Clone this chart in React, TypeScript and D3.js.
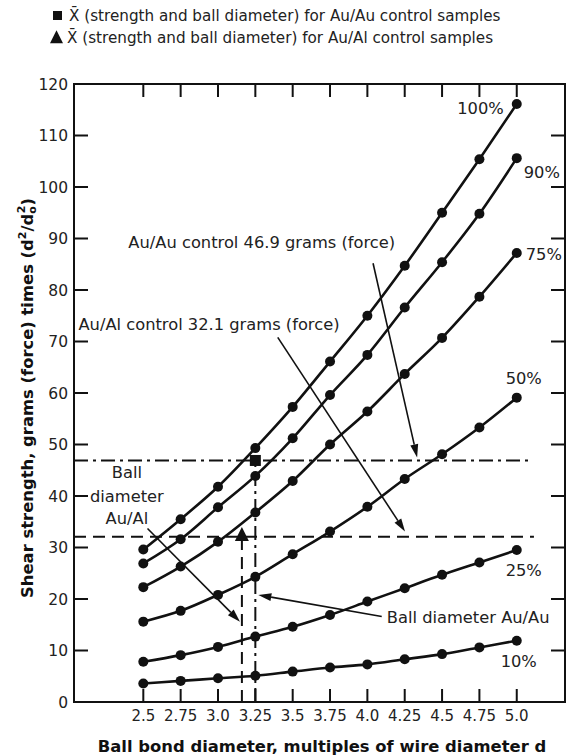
import React from "react";
import * as d3 from "d3";

const xValues = [2.5, 2.75, 3.0, 3.25, 3.5, 3.75, 4.0, 4.25, 4.5, 4.75, 5.0];
const xTickLabels = ["2.5", "2.75", "3.0", "3.25", "3.5", "3.75", "4.0", "4.25", "4.5", "4.75", "5.0"];
const yTicks = [0, 10, 20, 30, 40, 50, 60, 70, 80, 90, 100, 110, 120];

const s100 = [29.6, 35.5, 41.8, 49.3, 57.3, 66.1, 75.0, 84.7, 95.0, 105.4, 116.1];
const s90 = [26.9, 31.6, 37.8, 43.9, 51.2, 59.6, 67.4, 76.6, 85.4, 94.8, 105.6];
const s75 = [22.3, 26.3, 31.1, 36.8, 42.9, 50.0, 56.4, 63.7, 70.7, 78.7, 87.2];
const s50 = [15.6, 17.7, 20.8, 24.3, 28.7, 33.1, 37.9, 43.3, 48.1, 53.3, 59.1];
const s25 = [7.8, 9.1, 10.7, 12.7, 14.6, 16.9, 19.5, 22.1, 24.7, 27.1, 29.5];
const s10 = [3.6, 4.1, 4.6, 5.1, 5.9, 6.7, 7.3, 8.3, 9.3, 10.6, 11.9];
const seriesNames = ["100%", "90%", "75%", "50%", "25%", "10%"];

const auAuStrength = 46.9;
const auAuDiameter = 3.25;
const auAlStrength = 32.1;
const auAlDiameter = 3.16;

const FONT = "DejaVu Sans, Verdana, sans-serif";

export default function App() {
  const W = 573, H = 756;
  const left = 74, right = 565, top = 84, bottom = 702;
  const x = d3.scaleLinear().domain([2.036, 5.323]).range([left, right]);
  const y = d3.scaleLinear().domain([0, 120]).range([bottom, top]);
  const series = [s100, s90, s75, s50, s25, s10];
  const line = d3
    .line<number>()
    .x((_, i) => x(xValues[i]))
    .y((d) => y(d))
    .curve(d3.curveMonotoneX);

  const AF = 16.3;

  // label offsets relative to last point
  const labelPos = [
    { dx: -13, dy: 10, anchor: "end" },
    { dx: 7, dy: 20, anchor: "start" },
    { dx: 9, dy: 7, anchor: "start" },
    { dx: 7, dy: -14, anchor: "middle" },
    { dx: 7, dy: 26, anchor: "middle" },
    { dx: 2, dy: 26, anchor: "middle" },
  ];

  const arrows = [
    { x1: 4.038, y1: 85.2, x2: 4.333, y2: 47.5 },
    { x1: 3.40, y1: 70.8, x2: 4.252, y2: 33.1 },
    { x1: 2.528, y1: 33.7, x2: 3.147, y2: 15.6 },
    { x1: 4.096, y1: 16.6, x2: 3.27, y2: 20.8 },
  ];

  const arrowHead = (a: any) => {
    const X1 = x(a.x1), Y1 = y(a.y1), X2 = x(a.x2), Y2 = y(a.y2);
    const ang = Math.atan2(Y2 - Y1, X2 - X1);
    const L = 13, w = 4;
    const bx = X2 - L * Math.cos(ang), by = Y2 - L * Math.sin(ang);
    const px = -Math.sin(ang) * w, py = Math.cos(ang) * w;
    return {
      line: [X1, Y1, bx, by],
      head: `M${X2},${Y2}L${bx + px},${by + py}L${bx - px},${by - py}Z`,
    };
  };

  const tri = (cx: number, cy: number, s: number) =>
    `M${cx},${cy - s * 0.55}L${cx + s / 2},${cy + s * 0.45}L${cx - s / 2},${cy + s * 0.45}Z`;

  return (
    <svg width={W} height={H} style={{ position: "absolute", left: 0, top: 0, background: "#fff" }} fontFamily={FONT}>
      <rect x={0} y={0} width={W} height={H} fill="#fff" />
      {/* legend */}
      <rect x={53} y={11} width={9} height={9} fill="#111" />
      <text x={69} y={21} fontSize={15.2} fill="#222">X&#772; (strength and ball diameter) for Au/Au control samples</text>
      <path d={tri(56.5, 37.5, 13)} fill="#111" />
      <text x={67} y={43} fontSize={15.2} fill="#222">X&#772; (strength and ball diameter) for Au/Al control samples</text>

      {/* frame */}
      <rect x={left} y={top} width={right - left} height={bottom - top} fill="none" stroke="#111" strokeWidth={2} />
      {yTicks.map((t) => (
        <g key={"yt" + t}>
          {t > 0 && t < 120 && <line x1={left} x2={left + 14} y1={y(t)} y2={y(t)} stroke="#111" strokeWidth={2} />}
          {t > 0 && t < 120 && <line x1={right} x2={right - 14} y1={y(t)} y2={y(t)} stroke="#111" strokeWidth={2} />}
          <text x={68} y={y(t) + 5.5} textAnchor="end" fontSize={15.5} fill="#222">{t}</text>
        </g>
      ))}
      {xValues.map((v, i) => (
        <g key={"xt" + v}>
          <line x1={x(v)} x2={x(v)} y1={bottom} y2={bottom - 13} stroke="#111" strokeWidth={2} />
          <line x1={x(v)} x2={x(v)} y1={top} y2={top + 13} stroke="#111" strokeWidth={2} />
          <text x={x(v)} y={721} textAnchor="middle" fontSize={15} fill="#222">{xTickLabels[i]}</text>
        </g>
      ))}

      {/* axis titles */}
      <text x={322} y={752} textAnchor="middle" fontSize={16.4} fontWeight="bold" fill="#111">
        Ball bond diameter, multiples of wire diameter d
      </text>
      <text transform={`translate(33,${398}) rotate(-90)`} textAnchor="middle" fontSize={16.4} fontWeight="bold" fill="#111">
        Shear strength, grams (force) times (d
        <tspan fontSize={11} dy={-7}>2</tspan>
        <tspan fontSize={16.4} dy={7}>/d</tspan>
        <tspan fontSize={11} dy={3}>o</tspan>
        <tspan fontSize={11} dx={-7} dy={-11}>2</tspan>
        <tspan fontSize={16.4} dy={8}>)</tspan>
      </text>

      {/* reference lines */}
      <line x1={left} x2={x(5.089)} y1={y(auAuStrength)} y2={y(auAuStrength)} stroke="#111" strokeWidth={2} strokeDasharray="14,5,3,5" />
      <line x1={left} x2={x(5.115)} y1={y(auAlStrength)} y2={y(auAlStrength)} stroke="#111" strokeWidth={2} strokeDasharray="12,7" />
      <line x1={x(auAuDiameter)} x2={x(auAuDiameter)} y1={bottom} y2={y(auAuStrength)} stroke="#111" strokeWidth={2} strokeDasharray="14,5,3,5" />
      <line x1={x(auAlDiameter)} x2={x(auAlDiameter)} y1={bottom} y2={y(auAlStrength)} stroke="#111" strokeWidth={2} strokeDasharray="12,7" />

      {/* curves */}
      {series.map((s, k) => (
        <g key={"s" + k}>
          <path d={line(s) || ""} fill="none" stroke="#111" strokeWidth={2.6} />
          {s.map((v, i) => (
            <circle key={i} cx={x(xValues[i])} cy={y(v)} r={5} fill="#111" />
          ))}
          <text
            x={x(xValues[10]) + labelPos[k].dx}
            y={y(s[10]) + labelPos[k].dy}
            textAnchor={labelPos[k].anchor as any}
            fontSize={AF}
            fill="#222"
          >
            {seriesNames[k]}
          </text>
        </g>
      ))}

      {/* markers */}
      <rect x={x(auAuDiameter) - 5.5} y={y(auAuStrength) - 5.5} width={11} height={11} fill="#111" />
      <path d={tri(x(auAlDiameter), y(auAlStrength) - 2, 14)} fill="#111" />

      {/* annotations */}
      <text x={x(2.4)} y={y(88.2)} fontSize={AF} fill="#222">Au/Au control 46.9 grams (force)</text>
      <text x={x(2.066)} y={y(72.2)} fontSize={AF} fill="#222">Au/Al control 32.1 grams (force)</text>
      <text x={x(2.39)} textAnchor="middle" fontSize={AF} fill="#222">
        <tspan x={x(2.39)} y={478}>Ball</tspan>
        <tspan x={x(2.39)} y={502}>diameter</tspan>
        <tspan x={x(2.39)} y={524}>Au/Al</tspan>
      </text>
      <text x={x(4.13)} y={y(15.3)} fontSize={AF} fill="#222">Ball diameter Au/Au</text>
      {arrows.map((a, i) => {
        const h = arrowHead(a);
        return (
          <g key={"a" + i}>
            <line x1={h.line[0]} y1={h.line[1]} x2={h.line[2]} y2={h.line[3]} stroke="#111" strokeWidth={1.6} />
            <path d={h.head} fill="#111" />
          </g>
        );
      })}
    </svg>
  );
}
